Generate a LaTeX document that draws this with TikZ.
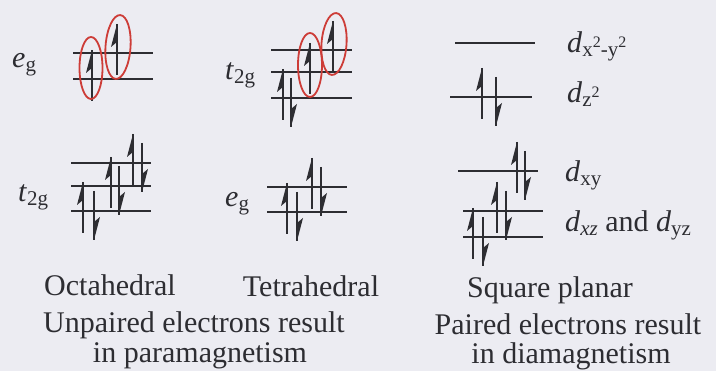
\documentclass[tikz,border=0pt]{standalone}
\usepackage{fontspec}
\setmainfont{Liberation Serif}
\definecolor{bg}{RGB}{236,236,242}
\definecolor{ink}{RGB}{45,45,50}
\definecolor{ringred}{RGB}{205,60,55}
\newcommand\lo[1]{\raisebox{-4pt}{\fontsize{21}{21}\selectfont #1}}
\newcommand\hi[1]{\raisebox{9pt}{\fontsize{16}{16}\selectfont #1}}
\newcommand\eup[2]{% x, level y
  \draw[eline] (#1,#2+22) -- (#1,#2-29);
  \fill[ink] (#1,#2-29) -- (#1-6,#2-6) -- (#1,#2-11) -- cycle;}
\newcommand\edown[2]{% x, level y
  \draw[eline] (#1,#2-20) -- (#1,#2+29);
  \fill[ink] (#1,#2+29) -- (#1+6,#2+6) -- (#1,#2+11) -- cycle;}
\newcommand\epair[3]{\eup{#1}{#3}\edown{#2}{#3}}
\begin{document}
\begin{tikzpicture}[x=1pt,y=-1pt,
  level/.style={draw=ink,line width=1.9pt},
  eline/.style={draw=ink,line width=1.5pt},
  ring/.style={draw=ringred,line width=1.8pt},
  txt/.style={inner sep=0pt,text=ink,font=\fontsize{30}{36}\selectfont},
  lab/.style={txt,anchor=base west}]
\useasboundingbox (0,0) rectangle (716,371);
\fill[bg] (0,0) rectangle (716,371);
% ---------- Octahedral ----------
\node[lab] (oeg) at (12,68) {\textit{e}\lo{g}};
\draw[level] (73,53) -- (153,53);
\draw[level] (73,79) -- (153,79);
\eup{92}{79}
\eup{117}{53}
\draw[ring] (91,68) ellipse [x radius=11.5pt, y radius=31pt];
\draw[ring,rotate around={-4:(118,47)}] (118,47) ellipse [x radius=12.5pt, y radius=32pt];
\node[lab] (otg) at (18,202) {\textit{t}\lo{2g}};
\draw[level] (71,163) -- (151,163);
\draw[level] (71,186) -- (151,186);
\draw[level] (71,211) -- (151,211);
\epair{83}{94}{211}
\epair{111}{119}{186}
\epair{133}{142}{163}
% ---------- Tetrahedral ----------
\node[lab] (ttg) at (225,80) {\textit{t}\lo{2g}};
\draw[level] (271,50) -- (352,50);
\draw[level] (271,72) -- (352,72);
\draw[level] (271,98) -- (352,98);
\epair{283}{291}{98}
\eup{310}{72}
\eup{333}{50}
\draw[ring] (310,65) ellipse [x radius=12pt, y radius=32pt];
\draw[ring,rotate around={-4:(334,44)}] (334,44) ellipse [x radius=12.5pt, y radius=31pt];
\node[lab] (teg) at (225,207) {\textit{e}\lo{g}};
\draw[level] (267,187) -- (347,187);
\draw[level] (267,212) -- (347,212);
\epair{287}{297}{212}
\epair{312}{321}{187}
% ---------- Square planar ----------
\draw[level] (455,43) -- (535,43);
\node[lab] (sx2) at (567,53) {\textit{d}\lo{x\hi{2}-y\hi{2}}};
\draw[level] (450,97) -- (532,97);
\epair{482}{496}{97}
\node[lab] (sz2) at (567,103) {\textit{d}\lo{z\hi{2}}};
\draw[level] (458,171) -- (538,171);
\epair{517}{525}{171}
\node[lab] (sxy) at (565,182) {\textit{d}\lo{xy}};
\draw[level] (463,211) -- (543,211);
\draw[level] (463,237) -- (543,237);
\epair{473}{483}{237}
\epair{497}{506}{211}
\node[lab] (sxz) at (565,232) {\textit{d}\lo{\textit{xz}} and \textit{d}\lo{yz}};
% ---------- captions ----------
\node[txt,anchor=base] (c1) at (110,296) {Octahedral};
\node[txt,anchor=base] (c2) at (311,297) {Tetrahedral};
\node[txt,anchor=base] (c3) at (194,333) {Unpaired electrons result};
\node[txt,anchor=base] (c4) at (200,363) {in paramagnetism};
\node[txt,anchor=base] (c5) at (550,298) {Square planar};
\node[txt,anchor=base] (c6) at (568,335) {Paired electrons result};
\node[txt,anchor=base] (c7) at (571,364) {in diamagnetism};
\end{tikzpicture}
\end{document}
